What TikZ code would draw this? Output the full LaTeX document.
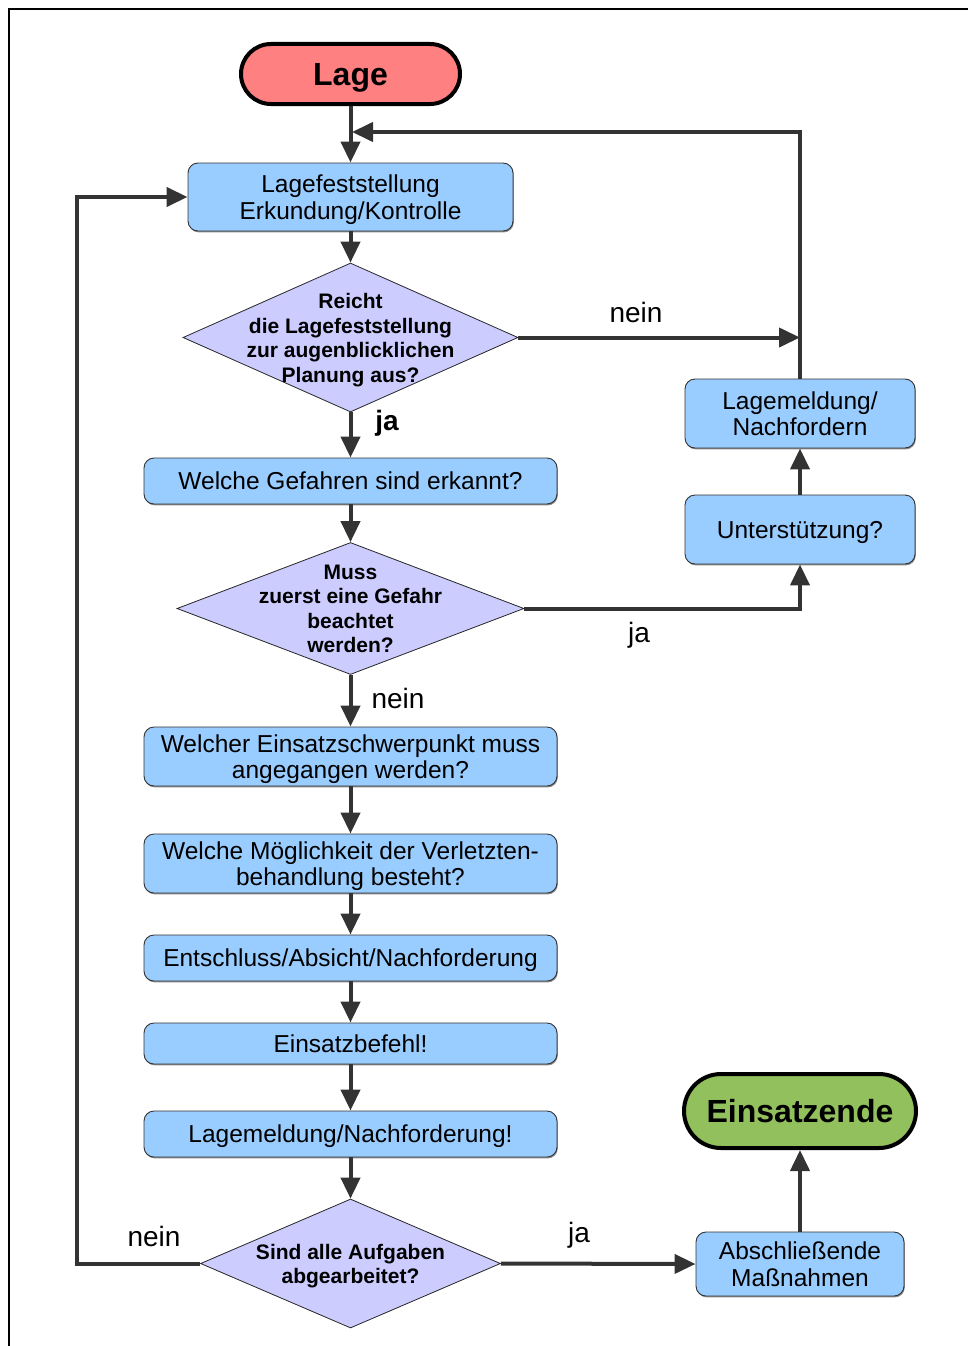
\documentclass[tikz,border=0pt]{standalone}
\usepackage{fontspec}
\setmainfont{Liberation Sans}
\usetikzlibrary{arrows.meta,shapes.geometric,shadows}
\definecolor{lagered}{HTML}{FF8080}
\definecolor{boxblue}{HTML}{99CCFF}
\definecolor{diaviolet}{HTML}{CCCCFF}
\definecolor{endgreen}{HTML}{92C05C}
\definecolor{lineg}{HTML}{333333}
\begin{document}
\begin{tikzpicture}[x=1pt,y=-1pt,
  box/.style={rectangle, rounded corners=10pt, draw=black!80, line width=0.9pt, fill=boxblue,
    align=center, font=\fontsize{24.5}{26.5}\selectfont, inner sep=0pt, text depth=0pt,
    drop shadow={shadow xshift=0.8pt, shadow yshift=-1.4pt, fill=black!45, opacity=1}},
  terminal/.style={rectangle, draw=black, line width=4pt, align=center,
    font=\bfseries\fontsize{32}{36}\selectfont, inner sep=0pt, text depth=0pt},
  dia/.style={diamond, draw=black!85, line width=0.8pt, fill=diaviolet, inner sep=0pt},
  diatext/.style={align=center, font=\bfseries\fontsize{21}{24.5}\selectfont, inner sep=0pt, text depth=0pt},
  lbl/.style={font=\fontsize{28}{30}\selectfont, inner sep=0pt, text depth=0pt},
  lblb/.style={font=\bfseries\fontsize{28}{30}\selectfont, inner sep=0pt, text depth=0pt},
  conn/.style={draw=lineg, line width=4pt, -{Triangle[length=21pt,width=19pt]}}
]
\useasboundingbox (0,0) rectangle (968,1346);
% frame
\draw[line width=2.4pt, black] (8.8,1346) -- (8.8,8.8) -- (968,8.8);

% nodes
\node[terminal, fill=lagered, rounded corners=30pt, minimum width=219pt, minimum height=60pt] (lage) at (350.5,74) {Lage};
\node[box, minimum width=325pt, minimum height=68pt] (lf) at (350.5,197) {Lagefeststellung\\Erkundung/Kontrolle};
\node[dia, minimum width=335pt, minimum height=149pt] (d1) at (350.5,337.5) {};
\node[diatext] (d1t) at (350.5,338) {Reicht\\die Lagefeststellung\\zur augenblicklichen\\Planung aus?};
\node[box, minimum width=413pt, minimum height=46pt] (gef) at (350.5,481) {Welche Gefahren sind erkannt?};
\node[dia, minimum width=347pt, minimum height=132pt] (d2) at (350.5,608.5) {};
\node[diatext] (d2t) at (350.5,609) {Muss\\zuerst eine Gefahr\\beachtet\\werden?};
\node[box, minimum width=413pt, minimum height=59pt] (esp) at (350.5,756.5) {Welcher Einsatzschwerpunkt muss\\angegangen werden?};
\node[box, minimum width=413pt, minimum height=59pt] (vb) at (350.5,863.5) {Welche Möglichkeit der Verletzten-\\behandlung besteht?};
\node[box, minimum width=413pt, minimum height=46pt] (ent) at (350.5,958) {Entschluss/Absicht/Nachforderung};
\node[box, minimum width=413pt, minimum height=41pt] (eb) at (350.5,1043.5) {Einsatzbefehl!};
\node[box, minimum width=413pt, minimum height=46pt] (lmn) at (350.5,1134) {Lagemeldung/Nachforderung!};
\node[dia, minimum width=300pt, minimum height=129pt] (d3) at (350.5,1263.5) {};
\node[diatext] (d3t) at (350.5,1264) {Sind alle Aufgaben\\abgearbeitet?};
\node[box, minimum width=208pt, minimum height=64pt] (abs) at (800,1264) {Abschließende\\Maßnahmen};
\node[terminal, fill=endgreen, rounded corners=37pt, minimum width=232pt, minimum height=74pt] (ende) at (800,1111) {Einsatzende};
\node[box, minimum width=230pt, minimum height=69pt] (us) at (800,529.5) {Unterstützung?};
\node[box, minimum width=230pt, minimum height=69pt] (lm) at (800,413.5) {Lagemeldung/\\Nachfordern};

% helper coordinates
\coordinate (topjoin) at (352,132);
\coordinate (rightjoin) at (800,337.5);
\coordinate (leftbend) at (77,1263.5);

% connectors
\draw[conn] (lage) -- (lf);
\draw[conn] (lm.north) |- (topjoin);
\draw[conn] (lf) -- (d1);
\draw[conn] (d1.east) -- (rightjoin);
\draw[conn] (d1) -- (gef);
\draw[conn] (gef) -- (d2);
\draw[conn] (d2.east) -| (us.south);
\draw[conn] (us) -- (lm);
\draw[conn] (d2) -- (esp);
\draw[conn] (esp) -- (vb);
\draw[conn] (vb) -- (ent);
\draw[conn] (ent) -- (eb);
\draw[conn] (eb) -- (lmn);
\draw[conn] (lmn) -- (d3);
\draw[conn] (d3.west) -- (leftbend) |- (lf.west);
\draw[conn] (d3.east) -- (abs.west);
\draw[conn] (abs) -- (ende);

% labels
\node[lbl] (l1) at (636,312) {nein};
\node[lblb] (l2) at (387,420) {ja};
\node[lbl] (l3) at (639,632) {ja};
\node[lbl] (l4) at (398,698) {nein};
\node[lbl] (l5) at (154,1236) {nein};
\node[lbl] (l6) at (579,1232) {ja};
\end{tikzpicture}
\end{document}
